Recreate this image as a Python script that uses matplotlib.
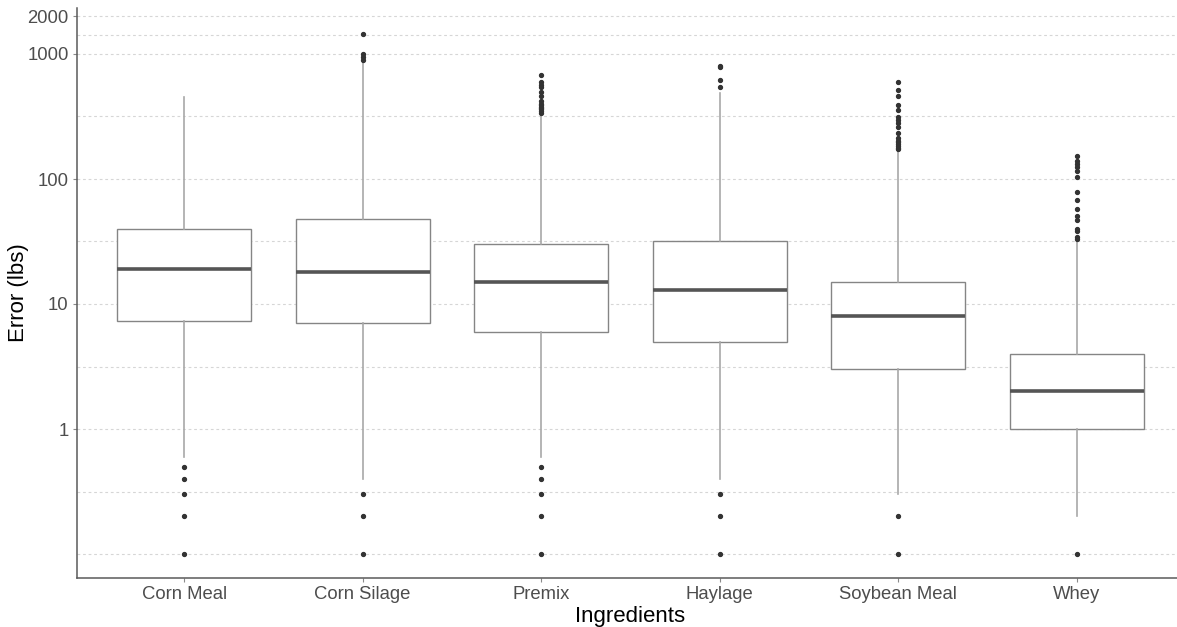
import matplotlib.pyplot as plt
import numpy as np

plt.rcParams['font.family'] = ['Liberation Sans', 'DejaVu Sans']

# Box statistics (log scale, lbs)
ingredients = ["Corn Meal", "Corn Silage", "Premix", "Haylage", "Soybean Meal", "Whey"]
q1 = [7.3, 7.0, 6.0, 5.0, 3.0, 1.0]
median = [19, 18, 15, 13, 8, 2]
q3 = [40, 48, 30, 32, 15, 4]
whisker_low = [0.6, 0.4, 0.6, 0.4, 0.3, 0.2]
whisker_high = [450, 890, 335, 485, 170, 32]

outliers = [
    [0.5, 0.4, 0.3, 0.2, 0.1],
    [0.3, 0.2, 0.1, 900, 950, 1000, 1450],
    [0.5, 0.4, 0.3, 0.2, 0.1,
     340, 350, 360, 370, 380, 390, 400, 420, 460, 500, 540, 560, 600, 680],
    [0.3, 0.2, 0.1, 545, 615, 790, 805],
    [0.2, 0.1,
     173, 178, 184, 190, 196, 203, 212, 235, 262, 279, 297, 316, 356, 391, 459, 515, 600],
    [0.1, 33, 34.5, 38.5, 40, 47, 51, 58, 68, 78, 104, 116, 125, 132, 139, 153],
]

major_ticks = [1, 10, 100, 1000, 2000]
grid_lines = [0.1, 10 ** -0.5, 1, 10 ** 0.5, 10, 10 ** 1.5, 100, 10 ** 2.5, 1000, 10 ** 3.15, 2000]

stats = []
for i, name in enumerate(ingredients):
    stats.append({
        "label": name,
        "q1": q1[i], "med": median[i], "q3": q3[i],
        "whislo": whisker_low[i], "whishi": whisker_high[i],
        "fliers": outliers[i],
    })

fig = plt.figure(figsize=(11.77, 6.27), dpi=100)
ax = fig.add_axes([77 / 1177, 1 - 578 / 627, (1184 - 77) / 1177, (578 - 8) / 627])

# ggplot-style dashed grid (major + half-decade minor)
for g in grid_lines:
    ax.axhline(g, color="#d6d6d6", linestyle=(0, (2.5, 2.5)), linewidth=0.8, zorder=0)

ax.bxp(
    stats,
    positions=np.arange(1, len(ingredients) + 1),
    widths=0.75,
    patch_artist=True,
    showcaps=False,
    boxprops=dict(facecolor="white", edgecolor="#858585", linewidth=1.0),
    medianprops=dict(color="#555555", linewidth=2.6),
    whiskerprops=dict(color="#a8a8a8", linewidth=1.2),
    flierprops=dict(marker="o", markersize=2.8, markerfacecolor="#333333",
                    markeredgecolor="#333333", linestyle="none"),
    zorder=2,
)

ax.set_yscale("log")
ax.set_ylim(10 ** -1.192, 10 ** 3.368)
ax.set_xlim(0.4, 6.6)
ax.set_yticks(major_ticks)
ax.set_yticklabels([str(t) for t in major_ticks])
ax.yaxis.set_minor_locator(plt.NullLocator())

for side in ["top", "right"]:
    ax.spines[side].set_visible(False)
for side in ["left", "bottom"]:
    ax.spines[side].set_color("#5a5a5a")
    ax.spines[side].set_linewidth(1.1)

ax.tick_params(axis="both", colors="#8a8a8a", length=3, width=0.8,
               labelsize=13.3, labelcolor="#4d4d4d", pad=3)
ax.set_xlabel("Ingredients", fontsize=16, color="black", labelpad=2)
ax.set_ylabel("Error (lbs)", fontsize=16, color="black")
ax.yaxis.set_label_coords((29 - 77) / 1107, 0.5)

fig.savefig("out.png", dpi=100)
